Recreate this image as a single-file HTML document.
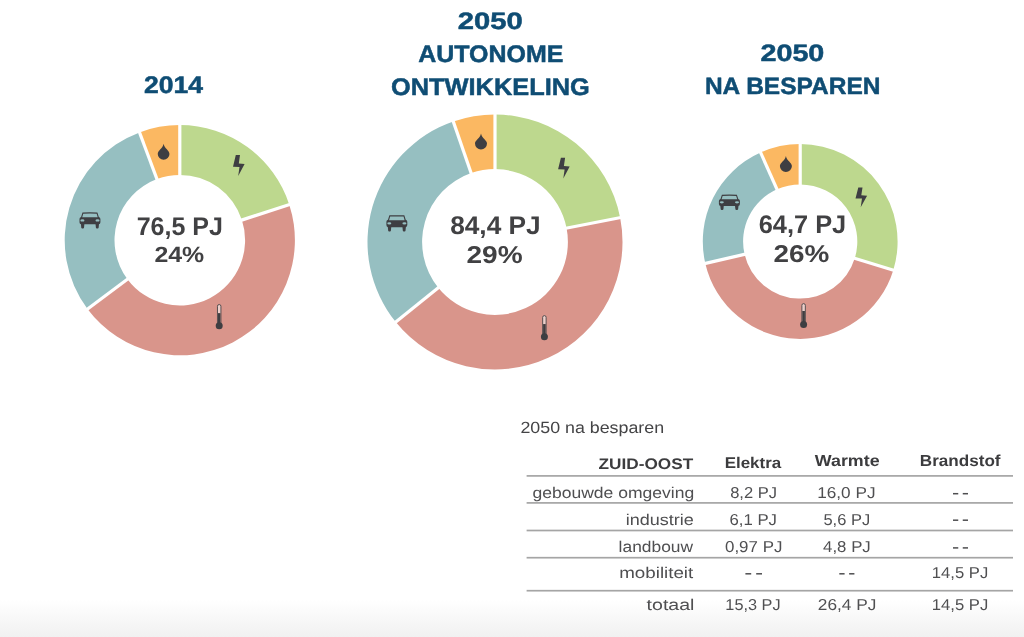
<!DOCTYPE html>
<html><head><meta charset="utf-8">
<style>
html,body{margin:0;padding:0;width:1024px;height:637px;overflow:hidden;background:#fff;}
body{background:linear-gradient(to bottom,#ffffff 0px,#ffffff 600px,#f1f1f1 637px);}
svg{position:absolute;left:0;top:0;filter:blur(0.4px);}
text{font-family:"Liberation Sans",sans-serif;text-rendering:geometricPrecision;}
</style></head><body>
<svg width="1024" height="637" viewBox="0 0 1024 637">
<path d="M179.80,125.10 A115.1,115.1 0 0 1 289.27,204.63 L241.90,220.02 A65.3,65.3 0 0 0 179.80,174.90 Z" fill="#BDD88E"/>
<path d="M289.27,204.63 A115.1,115.1 0 0 1 87.52,308.99 L127.44,279.22 A65.3,65.3 0 0 0 241.90,220.02 Z" fill="#D9958B"/>
<path d="M87.52,308.99 A115.1,115.1 0 0 1 139.49,132.39 L156.93,179.04 A65.3,65.3 0 0 0 127.44,279.22 Z" fill="#96BFC1"/>
<path d="M139.49,132.39 A115.1,115.1 0 0 1 179.80,125.10 L179.80,174.90 A65.3,65.3 0 0 0 156.93,179.04 Z" fill="#FBB862"/>
<line x1="179.80" y1="176.90" x2="179.80" y2="123.10" stroke="#fff" stroke-width="3.2"/>
<line x1="240.00" y1="220.64" x2="291.17" y2="204.01" stroke="#fff" stroke-width="3.2"/>
<line x1="129.05" y1="278.03" x2="85.91" y2="310.18" stroke="#fff" stroke-width="3.2"/>
<line x1="157.63" y1="180.91" x2="138.79" y2="130.52" stroke="#fff" stroke-width="3.2"/>
<path d="M163.60,143.80 C164.50,148.60 169.45,150.52 169.45,153.95 A5.85,5.85 0 0 1 157.75,153.95 C157.75,150.52 162.70,148.60 163.60,143.80 Z" fill="#3E3E42"/>
<polygon points="235.80,155.10 240.00,155.10 238.80,163.40 244.60,163.90 238.20,176.00 239.50,166.90 233.00,166.70" fill="#3E3E42"/>
<path d="M82.49,212.40 Q89.95,212.05 97.41,212.40 L98.81,216.89 Q100.40,217.29 100.40,218.92 L100.40,222.18 Q100.40,224.32 98.61,224.32 L81.29,224.32 Q79.50,224.32 79.50,222.18 L79.50,218.92 Q79.50,217.29 81.09,216.89 Z" fill="#3E3E42"/>
<path d="M83.23,213.68 Q89.95,213.42 96.67,213.68 L97.71,217.29 L82.19,217.29 Z" fill="#96BFC1"/>
<ellipse cx="82.39" cy="220.45" rx="2.04" ry="1.17" fill="#96BFC1"/>
<ellipse cx="97.51" cy="220.45" rx="2.04" ry="1.17" fill="#96BFC1"/>
<path d="M80.89,223.92 L84.38,223.92 L83.98,227.79 Q83.78,228.50 83.08,228.50 L82.19,228.50 Q81.49,228.50 81.29,227.79 Z" fill="#3E3E42"/>
<path d="M95.52,223.92 L99.01,223.92 L98.61,227.79 Q98.41,228.50 97.71,228.50 L96.82,228.50 Q96.12,228.50 95.92,227.79 Z" fill="#3E3E42"/>
<rect x="217.47" y="304.53" width="3.45" height="21.70" rx="1.72" fill="#EDCFCA" stroke="#3E3E42" stroke-width="0.85"/>
<rect x="217.90" y="313.20" width="2.60" height="12.60" fill="#B07A72" />
<rect x="217.95" y="313.20" width="2.5" height="12.60" fill="#3E3E42"/>
<circle cx="219.20" cy="325.80" r="3.5" fill="#3E3E42"/>
<path d="M495.00,114.50 A127.5,127.5 0 0 1 620.16,217.67 L566.56,228.09 A72.9,72.9 0 0 0 495.00,169.10 Z" fill="#BDD88E"/>
<path d="M620.16,217.67 A127.5,127.5 0 0 1 395.77,322.07 L438.27,287.78 A72.9,72.9 0 0 0 566.56,228.09 Z" fill="#D9958B"/>
<path d="M395.77,322.07 A127.5,127.5 0 0 1 453.28,121.52 L471.15,173.11 A72.9,72.9 0 0 0 438.27,287.78 Z" fill="#96BFC1"/>
<path d="M453.28,121.52 A127.5,127.5 0 0 1 495.00,114.50 L495.00,169.10 A72.9,72.9 0 0 0 471.15,173.11 Z" fill="#FBB862"/>
<line x1="495.00" y1="171.10" x2="495.00" y2="112.50" stroke="#fff" stroke-width="3.2"/>
<line x1="564.60" y1="228.47" x2="622.12" y2="217.29" stroke="#fff" stroke-width="3.2"/>
<line x1="439.82" y1="286.52" x2="394.22" y2="323.32" stroke="#fff" stroke-width="3.2"/>
<line x1="471.80" y1="175.00" x2="452.63" y2="119.63" stroke="#fff" stroke-width="3.2"/>
<path d="M481.00,133.60 C481.90,138.40 487.00,140.32 487.00,143.60 A6.00,6.00 0 0 1 475.00,143.60 C475.00,140.32 480.10,138.40 481.00,133.60 Z" fill="#3E3E42"/>
<polygon points="560.90,157.70 565.10,157.70 563.90,166.00 569.70,166.50 563.30,178.60 564.60,169.50 558.10,169.30" fill="#3E3E42"/>
<path d="M389.39,215.30 Q396.85,214.95 404.31,215.30 L405.71,219.79 Q407.30,220.19 407.30,221.82 L407.30,225.08 Q407.30,227.22 405.51,227.22 L388.19,227.22 Q386.40,227.22 386.40,225.08 L386.40,221.82 Q386.40,220.19 387.99,219.79 Z" fill="#3E3E42"/>
<path d="M390.13,216.58 Q396.85,216.32 403.57,216.58 L404.61,220.19 L389.09,220.19 Z" fill="#96BFC1"/>
<ellipse cx="389.29" cy="223.35" rx="2.04" ry="1.17" fill="#96BFC1"/>
<ellipse cx="404.41" cy="223.35" rx="2.04" ry="1.17" fill="#96BFC1"/>
<path d="M387.79,226.82 L391.28,226.82 L390.88,230.69 Q390.68,231.40 389.98,231.40 L389.09,231.40 Q388.39,231.40 388.19,230.69 Z" fill="#3E3E42"/>
<path d="M402.42,226.82 L405.91,226.82 L405.51,230.69 Q405.31,231.40 404.61,231.40 L403.72,231.40 Q403.02,231.40 402.82,230.69 Z" fill="#3E3E42"/>
<rect x="542.67" y="315.62" width="3.45" height="21.60" rx="1.72" fill="#EDCFCA" stroke="#3E3E42" stroke-width="0.85"/>
<rect x="543.10" y="324.10" width="2.60" height="12.70" fill="#B07A72" />
<rect x="543.15" y="324.10" width="2.5" height="12.70" fill="#3E3E42"/>
<circle cx="544.40" cy="336.80" r="3.5" fill="#3E3E42"/>
<path d="M800.20,144.10 A97.4,97.4 0 0 1 893.29,270.14 L854.78,258.29 A57.1,57.1 0 0 0 800.20,184.40 Z" fill="#BDD88E"/>
<path d="M893.29,270.14 A97.4,97.4 0 0 1 705.30,263.41 L744.56,254.34 A57.1,57.1 0 0 0 854.78,258.29 Z" fill="#D9958B"/>
<path d="M705.30,263.41 A97.4,97.4 0 0 1 760.58,152.52 L776.98,189.34 A57.1,57.1 0 0 0 744.56,254.34 Z" fill="#96BFC1"/>
<path d="M760.58,152.52 A97.4,97.4 0 0 1 800.20,144.10 L800.20,184.40 A57.1,57.1 0 0 0 776.98,189.34 Z" fill="#FBB862"/>
<line x1="800.20" y1="186.40" x2="800.20" y2="142.10" stroke="#fff" stroke-width="3.2"/>
<line x1="852.86" y1="257.70" x2="895.21" y2="270.73" stroke="#fff" stroke-width="3.2"/>
<line x1="746.51" y1="253.89" x2="703.35" y2="263.86" stroke="#fff" stroke-width="3.2"/>
<line x1="777.79" y1="191.16" x2="759.77" y2="150.69" stroke="#fff" stroke-width="3.2"/>
<path d="M785.90,155.90 C786.80,160.73 791.90,162.66 791.90,166.00 A6.00,6.00 0 0 1 779.90,166.00 C779.90,162.66 785.00,160.73 785.90,155.90 Z" fill="#3E3E42"/>
<polygon points="858.30,187.40 862.50,187.40 861.30,195.28 867.10,195.76 860.70,207.25 862.00,198.61 855.50,198.42" fill="#3E3E42"/>
<path d="M721.90,194.69 Q729.40,194.35 736.90,194.69 L738.30,198.96 Q739.90,199.34 739.90,200.89 L739.90,203.99 Q739.90,206.03 738.10,206.03 L720.70,206.03 Q718.90,206.03 718.90,203.99 L718.90,200.89 Q718.90,199.34 720.50,198.96 Z" fill="#3E3E42"/>
<path d="M722.65,195.90 Q729.40,195.66 736.15,195.90 L737.20,199.34 L721.60,199.34 Z" fill="#96BFC1"/>
<ellipse cx="721.80" cy="202.35" rx="2.05" ry="1.11" fill="#96BFC1"/>
<ellipse cx="737.00" cy="202.35" rx="2.05" ry="1.11" fill="#96BFC1"/>
<path d="M720.30,205.64 L723.80,205.64 L723.40,209.32 Q723.20,210.00 722.50,210.00 L721.60,210.00 Q720.90,210.00 720.70,209.32 Z" fill="#3E3E42"/>
<path d="M735.00,205.64 L738.50,205.64 L738.10,209.32 Q737.90,210.00 737.20,210.00 L736.30,210.00 Q735.60,210.00 735.40,209.32 Z" fill="#3E3E42"/>
<rect x="801.88" y="303.62" width="3.45" height="21.30" rx="1.72" fill="#EDCFCA" stroke="#3E3E42" stroke-width="0.85"/>
<rect x="802.30" y="311.00" width="2.60" height="13.50" fill="#B07A72" />
<rect x="802.35" y="311.00" width="2.5" height="13.50" fill="#3E3E42"/>
<circle cx="803.60" cy="324.50" r="3.5" fill="#3E3E42"/>
<text x="144.12" y="92.50" font-size="24" font-weight="bold" fill="#0F4D74" stroke="#0F4D74" stroke-width="0.5" stroke-linejoin="round" textLength="59.02" lengthAdjust="spacingAndGlyphs">2014</text>
<text x="457.83" y="29.00" font-size="23.8" font-weight="bold" fill="#0F4D74" stroke="#0F4D74" stroke-width="0.5" stroke-linejoin="round" textLength="64.95" lengthAdjust="spacingAndGlyphs">2050</text>
<text x="418.23" y="62.40" font-size="23.9" font-weight="bold" fill="#0F4D74" stroke="#0F4D74" stroke-width="0.5" stroke-linejoin="round" textLength="145.12" lengthAdjust="spacingAndGlyphs">AUTONOME</text>
<text x="391.04" y="95.20" font-size="23.9" font-weight="bold" fill="#0F4D74" stroke="#0F4D74" stroke-width="0.5" stroke-linejoin="round" textLength="198.71" lengthAdjust="spacingAndGlyphs">ONTWIKKELING</text>
<text x="760.44" y="60.80" font-size="23.8" font-weight="bold" fill="#0F4D74" stroke="#0F4D74" stroke-width="0.5" stroke-linejoin="round" textLength="63.92" lengthAdjust="spacingAndGlyphs">2050</text>
<text x="704.90" y="94.30" font-size="23.5" font-weight="bold" fill="#0F4D74" stroke="#0F4D74" stroke-width="0.5" stroke-linejoin="round" textLength="175.51" lengthAdjust="spacingAndGlyphs">NA BESPAREN</text>
<text x="136.64" y="235.10" font-size="25.6" font-weight="bold" fill="#414143" textLength="86.21" lengthAdjust="spacingAndGlyphs">76,5 PJ</text>
<text x="154.43" y="261.80" font-size="22" font-weight="bold" fill="#414143" textLength="49.83" lengthAdjust="spacingAndGlyphs">24%</text>
<text x="450.15" y="233.80" font-size="25.6" font-weight="bold" fill="#414143" textLength="90.59" lengthAdjust="spacingAndGlyphs">84,4 PJ</text>
<text x="466.52" y="263.20" font-size="24.4" font-weight="bold" fill="#414143" textLength="56.13" lengthAdjust="spacingAndGlyphs">29%</text>
<text x="758.75" y="233.10" font-size="25.6" font-weight="bold" fill="#414143" textLength="87.42" lengthAdjust="spacingAndGlyphs">64,7 PJ</text>
<text x="773.52" y="262.10" font-size="24.2" font-weight="bold" fill="#414143" textLength="55.82" lengthAdjust="spacingAndGlyphs">26%</text>
<text x="520.41" y="432.80" font-size="16.2" fill="#444446" textLength="143.71" lengthAdjust="spacingAndGlyphs">2050 na besparen</text>
<text x="598.58" y="469.00" font-size="15.3" font-weight="bold" fill="#3C3C3E" textLength="94.68" lengthAdjust="spacingAndGlyphs">ZUID-OOST</text>
<text x="724.66" y="468.10" font-size="15.5" font-weight="bold" fill="#3C3C3E" textLength="56.53" lengthAdjust="spacingAndGlyphs">Elektra</text>
<text x="814.80" y="465.70" font-size="16" font-weight="bold" fill="#3C3C3E" textLength="64.79" lengthAdjust="spacingAndGlyphs">Warmte</text>
<text x="919.85" y="465.70" font-size="16" font-weight="bold" fill="#3C3C3E" textLength="80.71" lengthAdjust="spacingAndGlyphs">Brandstof</text>
<text x="532.46" y="498.00" font-size="15.6" fill="#4F4F51" textLength="161.77" lengthAdjust="spacingAndGlyphs">gebouwde omgeving</text>
<text x="730.20" y="498.00" font-size="15.8" fill="#4F4F51" textLength="46.84" lengthAdjust="spacingAndGlyphs">8,2 PJ</text>
<text x="817.21" y="498.00" font-size="15.8" fill="#4F4F51" textLength="58.30" lengthAdjust="spacingAndGlyphs">16,0 PJ</text>
<rect x="953.00" y="492.95" width="5.25" height="1.5" fill="#4F4F51"/>
<rect x="962.75" y="492.95" width="5.25" height="1.5" fill="#4F4F51"/>
<text x="625.68" y="524.50" font-size="15.6" fill="#4F4F51" textLength="68.18" lengthAdjust="spacingAndGlyphs">industrie</text>
<text x="729.46" y="524.50" font-size="15.8" fill="#4F4F51" textLength="47.49" lengthAdjust="spacingAndGlyphs">6,1 PJ</text>
<text x="823.44" y="524.50" font-size="15.8" fill="#4F4F51" textLength="46.69" lengthAdjust="spacingAndGlyphs">5,6 PJ</text>
<rect x="953.00" y="519.45" width="5.25" height="1.5" fill="#4F4F51"/>
<rect x="962.75" y="519.45" width="5.25" height="1.5" fill="#4F4F51"/>
<text x="618.63" y="552.20" font-size="15.6" fill="#4F4F51" textLength="74.41" lengthAdjust="spacingAndGlyphs">landbouw</text>
<text x="725.02" y="552.20" font-size="15.8" fill="#4F4F51" textLength="57.37" lengthAdjust="spacingAndGlyphs">0,97 PJ</text>
<text x="823.12" y="552.20" font-size="15.8" fill="#4F4F51" textLength="47.64" lengthAdjust="spacingAndGlyphs">4,8 PJ</text>
<rect x="953.00" y="547.15" width="5.25" height="1.5" fill="#4F4F51"/>
<rect x="962.75" y="547.15" width="5.25" height="1.5" fill="#4F4F51"/>
<text x="619.23" y="578.10" font-size="15.6" fill="#4F4F51" textLength="74.03" lengthAdjust="spacingAndGlyphs">mobiliteit</text>
<rect x="745.40" y="573.05" width="5.81" height="1.5" fill="#4F4F51"/>
<rect x="756.19" y="573.05" width="5.81" height="1.5" fill="#4F4F51"/>
<rect x="839.30" y="573.05" width="5.29" height="1.5" fill="#4F4F51"/>
<rect x="849.12" y="573.05" width="5.29" height="1.5" fill="#4F4F51"/>
<text x="931.85" y="578.10" font-size="15.8" fill="#4F4F51" textLength="56.42" lengthAdjust="spacingAndGlyphs">14,5 PJ</text>
<text x="646.61" y="609.80" font-size="15.6" fill="#4F4F51" textLength="47.79" lengthAdjust="spacingAndGlyphs">totaal</text>
<text x="725.38" y="609.80" font-size="15.8" fill="#4F4F51" textLength="55.16" lengthAdjust="spacingAndGlyphs">15,3 PJ</text>
<text x="817.84" y="609.80" font-size="15.8" fill="#4F4F51" textLength="58.48" lengthAdjust="spacingAndGlyphs">26,4 PJ</text>
<text x="931.85" y="609.80" font-size="15.8" fill="#4F4F51" textLength="56.42" lengthAdjust="spacingAndGlyphs">14,5 PJ</text>
<rect x="526.6" y="475.05" width="486.4" height="1.7" fill="#A5A5A5"/>
<rect x="526.6" y="502.05" width="486.4" height="1.7" fill="#A5A5A5"/>
<rect x="526.6" y="529.65" width="486.4" height="1.7" fill="#A5A5A5"/>
<rect x="526.6" y="556.85" width="486.4" height="1.7" fill="#A5A5A5"/>
<rect x="526.6" y="589.85" width="486.4" height="1.7" fill="#A5A5A5"/>
</svg>
</body></html>
